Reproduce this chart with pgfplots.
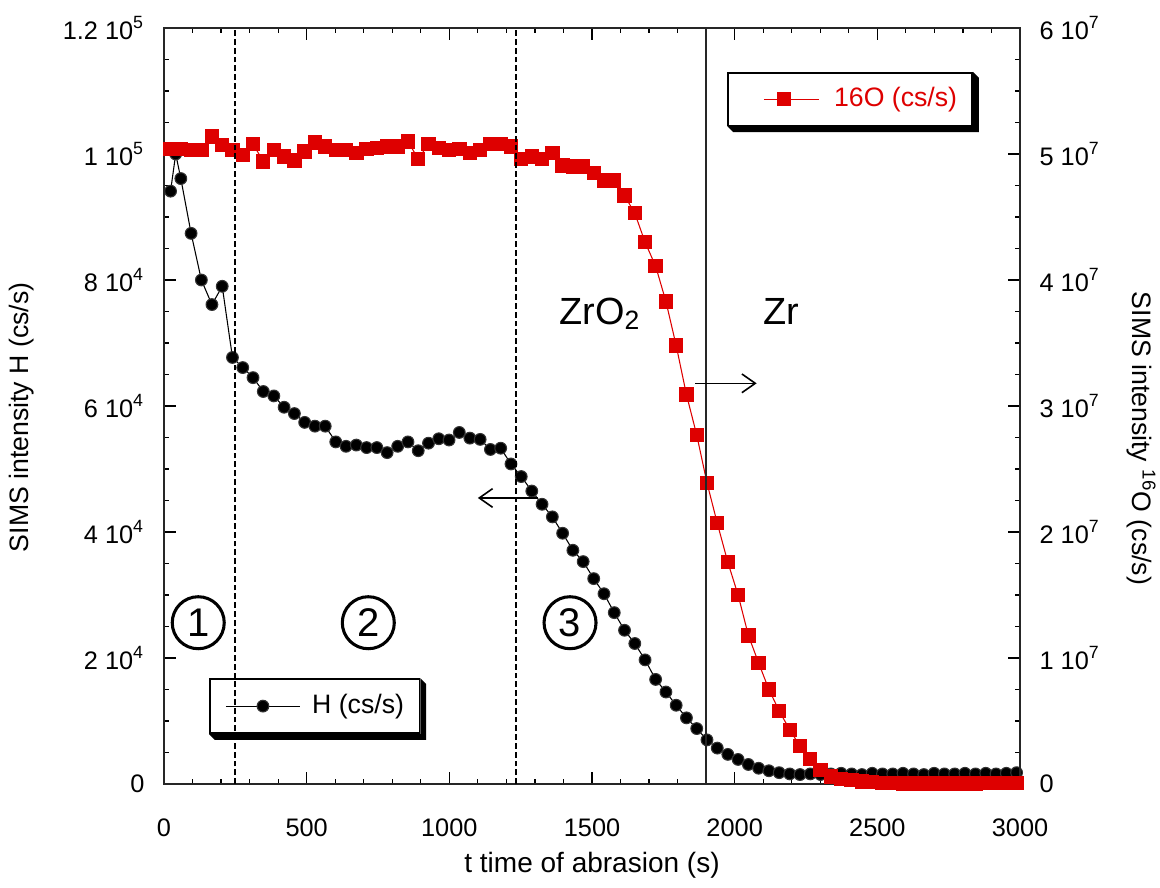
\documentclass[border=0pt]{standalone}
\usepackage{fontspec}
\setmainfont{Liberation Sans}
\usepackage{pgfplots}
\usepackage{pgfplotstable}
\pgfplotsset{compat=1.18}
\usetikzlibrary{calc,arrows.meta}
\definecolor{ored}{RGB}{222,0,0}

\pgfplotstableread{
x H
23 94100
41 100000
59 96100
95 87400
131 80000
168 76100
204 79000
240 67700
276 66100
312 64500
348 62300
385 61600
421 59800
457 58800
493 57400
529 56800
565 56800
602 54300
638 53600
674 53800
710 53400
746 53400
782 52600
819 53600
855 54300
891 52900
927 54100
963 54800
999 54600
1035 55800
1072 54900
1108 54700
1144 53100
1180 53300
1216 50800
1252 48800
1289 46500
1325 44400
1361 42400
1397 39800
1433 37100
1469 35300
1506 32600
1542 30200
1578 27200
1614 24400
1650 22300
1686 19700
1723 16600
1759 14600
1795 12500
1831 10500
1867 8800
1903 7000
1939 5700
1976 4700
2012 3900
2048 3100
2084 2500
2120 2100
2156 1800
2193 1600
2229 1500
2265 1600
2301 1500
2337 1600
2373 1700
2410 1600
2446 1500
2482 1700
2518 1600
2554 1600
2590 1700
2627 1600
2663 1500
2699 1700
2735 1600
2771 1600
2807 1700
2844 1600
2880 1700
2916 1600
2952 1700
2988 1800
}\Hdata

\pgfplotstableread{
x O
23 5.04e7
59 5.04e7
95 5.03e7
131 5.03e7
168 5.14e7
204 5.07e7
240 5.03e7
276 4.99e7
312 5.08e7
348 4.94e7
385 5.03e7
421 4.98e7
457 4.95e7
493 5.02e7
529 5.09e7
565 5.06e7
602 5.03e7
638 5.03e7
674 5.01e7
710 5.04e7
746 5.05e7
782 5.06e7
819 5.06e7
855 5.10e7
891 4.96e7
927 5.08e7
963 5.05e7
999 5.03e7
1035 5.04e7
1072 5.01e7
1108 5.03e7
1144 5.08e7
1180 5.08e7
1216 5.06e7
1252 4.96e7
1289 4.98e7
1325 4.96e7
1361 5.01e7
1397 4.91e7
1433 4.90e7
1469 4.90e7
1506 4.85e7
1542 4.79e7
1578 4.79e7
1614 4.67e7
1650 4.53e7
1686 4.30e7
1723 4.11e7
1759 3.83e7
1795 3.48e7
1831 3.09e7
1867 2.77e7
1903 2.39e7
1939 2.07e7
1976 1.76e7
2012 1.50e7
2048 1.18e7
2084 0.96e7
2120 0.75e7
2156 0.58e7
2193 0.43e7
2229 0.30e7
2265 0.20e7
2301 0.11e7
2337 0.06e7
2373 0.04e7
2410 0.03e7
2446 0.02e7
2482 0.015e7
2518 0.01e7
2554 0.01e7
2590 0.005e7
2627 0.005e7
2663 0.005e7
2699 0.005e7
2735 0.005e7
2771 0.005e7
2807 0.005e7
2844 0.005e7
2880 0.01e7
2916 0.01e7
2952 0.01e7
2988 0.01e7
}\Odata

\pgfplotsset{
  myaxis/.style={
    scale only axis, width=321pt, height=283.5pt,
    xmin=0, xmax=3000,
    clip mode=individual,
    scaled x ticks=false, scaled y ticks=false,
    tick align=inside,
    major tick length=4.5pt, minor tick length=2pt,
    every tick/.style={black, line width=0.45pt},
    axis line style={line width=0.6pt, black!85},
    tick label style={font=\fontsize{9.5}{11}\selectfont},
    label style={font=\fontsize{9}{11}\selectfont},
  },
  hlegimg/.style={legend image code/.code={\draw[##1] (0pt,0pt) -- (27.75pt,0pt); \draw[##1] plot coordinates {(13.9pt,0pt)};}},
  olegimg/.style={legend image code/.code={\path (-7.5pt,0pt); \draw[##1] (0pt,0pt) -- (20.6pt,0pt); \draw[##1] plot coordinates {(7.5pt,0pt)};}},
}

\begin{document}
\begin{tikzpicture}
\begin{axis}[myaxis, hlegimg,
  ymin=0, ymax=120000,
  xtick={0,500,...,3000},
  xticklabels={0,500,1000,1500,2000,2500,3000},
  ytick={0,20000,40000,60000,80000,100000,120000},
  yticklabels={0, 2 10\textsuperscript{4}, 4 10\textsuperscript{4}, 6 10\textsuperscript{4}, 8 10\textsuperscript{4}, 1 10\textsuperscript{5}, 1.2 10\textsuperscript{5}},
  minor x tick num=4, minor y tick num=3,
  xtick pos=both, ytick pos=left,
  xticklabel style={yshift=-9.5pt},
  yticklabel style={xshift=-3.8pt},
  xlabel={t time of abrasion (s)},
  ylabel={SIMS intensity H (cs/s)},
  every axis x label/.style={at={(axis description cs:0.5,-0.107)}, anchor=center, font=\fontsize{10.5}{12}\selectfont},
  every axis y label/.style={at={(axis description cs:-0.166,0.485)}, rotate=90, anchor=center},
  legend style={name=hleg, at={(rel axis cs:0.0526,0.066)}, anchor=south west,
    draw=black, line width=0.65pt, fill=white,
    font=\fontsize{10}{12}\selectfont, inner xsep=5.8pt, inner ysep=5.8pt,
    nodes={inner sep=0pt}, column sep=4.4pt},
]
\addplot[black, line width=0.4pt, mark=*, mark size=2.2pt, mark options={fill=black, draw=black!80}]
  table[x=x, y=H] {\Hdata};
\addlegendentry{H (cs/s)}
\end{axis}

\begin{axis}[myaxis, olegimg,
  ymin=0, ymax=6e7,
  xtick=\empty,
  ytick={0,1e7,2e7,3e7,4e7,5e7,6e7},
  yticklabels={0, 1 10\textsuperscript{7}, 2 10\textsuperscript{7}, 3 10\textsuperscript{7}, 4 10\textsuperscript{7}, 5 10\textsuperscript{7}, 6 10\textsuperscript{7}},
  minor y tick num=3,
  ytick pos=right,
  yticklabel style={xshift=3.8pt},
  ylabel={SIMS intensity \textsuperscript{16}O (cs/s)},
  every axis y label/.style={at={(axis description cs:1.142,0.457)}, rotate=-90, anchor=center},
  legend style={name=oleg, at={(rel axis cs:0.945,0.942)}, anchor=north east,
    draw=black, line width=0.65pt, fill=white,
    font=\fontsize{10}{12}\selectfont, inner xsep=5.6pt, inner ysep=5.5pt,
    nodes={inner sep=0pt}, column sep=5.6pt},
]
\addplot[ored, line width=0.4pt, mark=square*, mark size=2.5pt, mark options={fill=ored, draw=ored}]
  table[x=x, y=O] {\Odata};
\addlegendentry{\textcolor{ored}{16O (cs/s)}}

% annotations
\draw[black, line width=0.7pt, dash pattern=on 2.2pt off 1.1pt] (axis cs:250,0) -- (axis cs:250,6e7);
\draw[black, line width=0.7pt, dash pattern=on 2.2pt off 1.1pt] (axis cs:1235,0) -- (axis cs:1235,6e7);
\draw[black!85, line width=0.65pt] (axis cs:1900,0) -- (axis cs:1900,6e7);
\draw[black, line width=0.6pt, -{Straight Barb[length=5pt,width=7pt]}] (axis cs:1311,2.27e7) -- (axis cs:1100,2.27e7);
\draw[black, line width=0.6pt, -{Straight Barb[length=5pt,width=7pt]}] (axis cs:1861,3.18e7) -- (axis cs:2077,3.18e7);
\node[anchor=base, font=\fontsize{14.2}{16}\selectfont] at (axis cs:1528,3.65e7) {ZrO\textsubscript{2}};
\node[anchor=base, font=\fontsize{14.2}{16}\selectfont] at (axis cs:2163,3.65e7) {Zr};
\node[circle, draw, line width=1.15pt, minimum size=19.5pt, inner sep=0pt, font=\fontsize{15}{16}\selectfont] at (axis cs:120,1.28e7) {1};
\node[circle, draw, line width=1.15pt, minimum size=19.5pt, inner sep=0pt, font=\fontsize{15}{16}\selectfont] at (axis cs:716,1.28e7) {2};
\node[circle, draw, line width=1.15pt, minimum size=19.5pt, inner sep=0pt, font=\fontsize{15}{16}\selectfont] at (axis cs:1423,1.28e7) {3};
\end{axis}
% legend box shadows (3D-like extrusion at right and bottom)
\foreach \n in {hleg,oleg}{
  \fill[black] (\n.south west) -- ($(\n.south west)+(2.2pt,-2.2pt)$) -- ($(\n.south east)+(2.2pt,-2.2pt)$)
     -- ($(\n.north east)+(2.2pt,-2.2pt)$) -- (\n.north east) -- (\n.south east) -- cycle;
}
\pgfresetboundingbox
\path[use as bounding box] (-61.5pt,-38.625pt) rectangle (373.5pt,294pt);
\end{tikzpicture}
\end{document}
